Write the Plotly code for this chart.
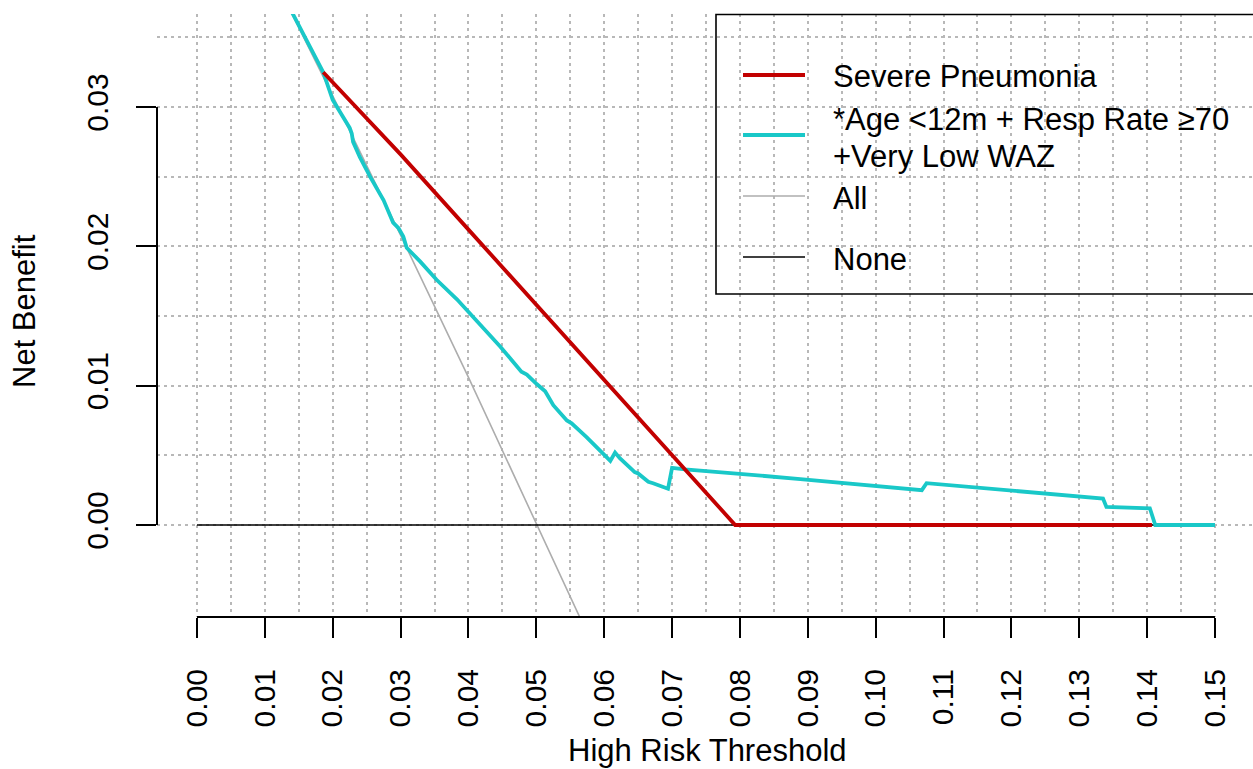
import plotly.graph_objects as go

# ---------------- data ----------------
thr_all = [0.0, 0.01, 0.02, 0.03, 0.04, 0.05, 0.06]
nb_all = [0.0502, 0.0406, 0.0308, 0.0208, 0.0106, 0.0002, -0.0104]

thr_none = [0.0, 0.15]
nb_none = [0.0, 0.0]

thr_sp = [0.0186, 0.03, 0.04, 0.05, 0.06, 0.07, 0.0793, 0.10, 0.12, 0.1407]
nb_sp = [0.0325, 0.0266, 0.0212, 0.0158, 0.0105, 0.0051, 0.0, 0.0, 0.0, 0.0]

thr_combo = [0.0, 0.005, 0.01, 0.0141, 0.0186, 0.0200, 0.0225, 0.0228, 0.0230, 0.0240,
             0.0255, 0.0275, 0.0289, 0.0297, 0.0304, 0.0309, 0.0329, 0.0353, 0.0383,
             0.0400, 0.0447, 0.0478, 0.0486, 0.0501, 0.0513, 0.0525, 0.0530, 0.0545,
             0.0552, 0.0574, 0.0609, 0.0616, 0.0623, 0.0645, 0.0650, 0.0665, 0.0672,
             0.0694, 0.0700, 0.0719, 0.0889, 0.0962, 0.1068, 0.1075, 0.1122, 0.1132,
             0.1335, 0.1340, 0.1404, 0.1412, 0.15]
nb_combo = [0.0502, 0.0454, 0.0406, 0.0367, 0.0325, 0.0305, 0.0285, 0.0281, 0.0275, 0.0264,
            0.0250, 0.0233, 0.0217, 0.0213, 0.0207, 0.0199, 0.0189, 0.0176, 0.0162,
            0.0153, 0.0128, 0.0110, 0.0108, 0.0101, 0.0096, 0.0086, 0.0083, 0.0075,
            0.0073, 0.0063, 0.0046, 0.0052, 0.0048, 0.0038, 0.0037, 0.0031, 0.0030,
            0.0026, 0.0041, 0.0040, 0.0033, 0.0030, 0.0025, 0.0030, 0.0028, 0.0027,
            0.0019, 0.0013, 0.0012, 0.0, 0.0]

x_ticks = [0.00, 0.01, 0.02, 0.03, 0.04, 0.05, 0.06, 0.07, 0.08, 0.09, 0.10, 0.11, 0.12, 0.13, 0.14, 0.15]
x_ticklabels = ["0.00", "0.01", "0.02", "0.03", "0.04", "0.05", "0.06", "0.07", "0.08", "0.09",
                "0.10", "0.11", "0.12", "0.13", "0.14", "0.15"]
x_minor = [0.005, 0.015, 0.025, 0.035, 0.045, 0.055, 0.065, 0.075, 0.085, 0.095, 0.105,
           0.115, 0.125, 0.135, 0.145]
y_ticks = [0.00, 0.01, 0.02, 0.03]
y_ticklabels = ["0.00", "0.01", "0.02", "0.03"]
y_minor = [0.005, 0.015, 0.025, 0.035]

legend_labels = ["Severe Pneumonia", "*Age <12m + Resp Rate \u226570\n+Very Low WAZ", "All", "None"]

x_title = "High Risk Threshold"
y_title = "Net Benefit"

# ---------------- styles / layout ----------------
W, H = 1253, 769
L, R, T, B = 157, 0, 14, 152
FONT = "Liberation Sans, Arial, Helvetica, sans-serif"
RED = "#C20000"
CYAN = "#19C8C8"
GRAY = "#ADADAD"
GRID = "#B8B8B8"

def px(xp):
    return (xp - L) / (W - L - R)

def py(yp):
    return (H - B - yp) / (H - T - B)

fig = go.Figure()
fig.add_trace(go.Scatter(x=thr_all, y=nb_all, mode="lines",
                         line=dict(color=GRAY, width=1.6), showlegend=False, hoverinfo="skip"))
fig.add_trace(go.Scatter(x=thr_none, y=nb_none, mode="lines",
                         line=dict(color="black", width=1.3), showlegend=False, hoverinfo="skip"))
fig.add_trace(go.Scatter(x=thr_combo, y=nb_combo, mode="lines",
                         line=dict(color=CYAN, width=3.8), showlegend=False, hoverinfo="skip"))
fig.add_trace(go.Scatter(x=thr_sp, y=nb_sp, mode="lines",
                         line=dict(color=RED, width=3.8), showlegend=False, hoverinfo="skip"))

grid_common = dict(showgrid=True, gridcolor=GRID, gridwidth=1.5, griddash="3px,4px")

fig.update_xaxes(range=[-0.005894, 0.15560], tickmode="array", tickvals=x_ticks,
                 ticktext=x_ticklabels, tickangle=-90, ticks="outside", ticklen=20,
                 tickwidth=2, tickcolor="black", showline=False, zeroline=False,
                 ticklabelstandoff=19,
                 tickfont=dict(family=FONT, size=30, color="black"),
                 minor=dict(tickvals=x_minor, showgrid=True, gridcolor=GRID, gridwidth=1.5,
                            griddash="3px,4px", ticks=""),
                 **grid_common)
fig.update_yaxes(range=[-0.006603, 0.036676], tickmode="array", tickvals=y_ticks,
                 ticktext=y_ticklabels, tickangle=-90, ticks="outside", ticklen=20,
                 tickwidth=2, tickcolor="black", showline=False, zeroline=False,
                 ticklabelstandoff=16,
                 tickfont=dict(family=FONT, size=30, color="black"),
                 minor=dict(tickvals=y_minor, showgrid=True, gridcolor=GRID, gridwidth=1.5,
                            griddash="3px,4px", ticks=""),
                 **grid_common)

shapes = []
# R-style axis lines spanning first to last tick
shapes.append(dict(type="line", xref="x", yref="paper", x0=x_ticks[0], x1=x_ticks[-1], y0=0, y1=0,
                   line=dict(color="black", width=2)))
shapes.append(dict(type="line", xref="paper", yref="y", x0=0, x1=0, y0=y_ticks[0], y1=y_ticks[-1],
                   line=dict(color="black", width=2)))

# legend box
shapes.append(dict(type="rect", xref="paper", yref="paper", x0=px(716), x1=px(1262),
                   y0=py(294), y1=py(14.5), line=dict(color="black", width=1.6),
                   fillcolor="rgba(0,0,0,0)"))
leg_styles = [(RED, 3.8, 75), (CYAN, 3.8, 135), (GRAY, 1.6, 196), (("black"), 1.3, 257)]
annotations = []
for lab, (col, wd, yc) in zip(legend_labels, leg_styles):
    shapes.append(dict(type="line", xref="paper", yref="paper", x0=px(743), x1=px(805),
                       y0=py(yc), y1=py(yc), line=dict(color=col, width=wd)))
    lines = lab.split("\n")
    if len(lines) == 1:
        ys = [yc]
    else:
        ys = [118, 154]
    for ln, yy in zip(lines, ys):
        annotations.append(dict(text=ln, xref="paper", yref="paper", x=px(831), y=py(yy + 2),
                                xanchor="left", yanchor="middle", showarrow=False,
                                font=dict(family=FONT, size=31, color="black")))

annotations.append(dict(text=x_title, xref="paper", yref="paper", x=px(707), y=py(750),
                        xanchor="center", yanchor="middle", showarrow=False,
                        font=dict(family=FONT, size=31, color="black")))
annotations.append(dict(text=y_title, xref="paper", yref="paper", x=px(24), y=py(311),
                        xanchor="center", yanchor="middle", showarrow=False, textangle=-90,
                        font=dict(family=FONT, size=31, color="black")))

fig.update_layout(width=W, height=H, margin=dict(l=L, r=R, t=T, b=B),
                  paper_bgcolor="white", plot_bgcolor="white",
                  shapes=shapes, annotations=annotations, showlegend=False,
                  font=dict(family=FONT))

fig.write_html("out.html")
